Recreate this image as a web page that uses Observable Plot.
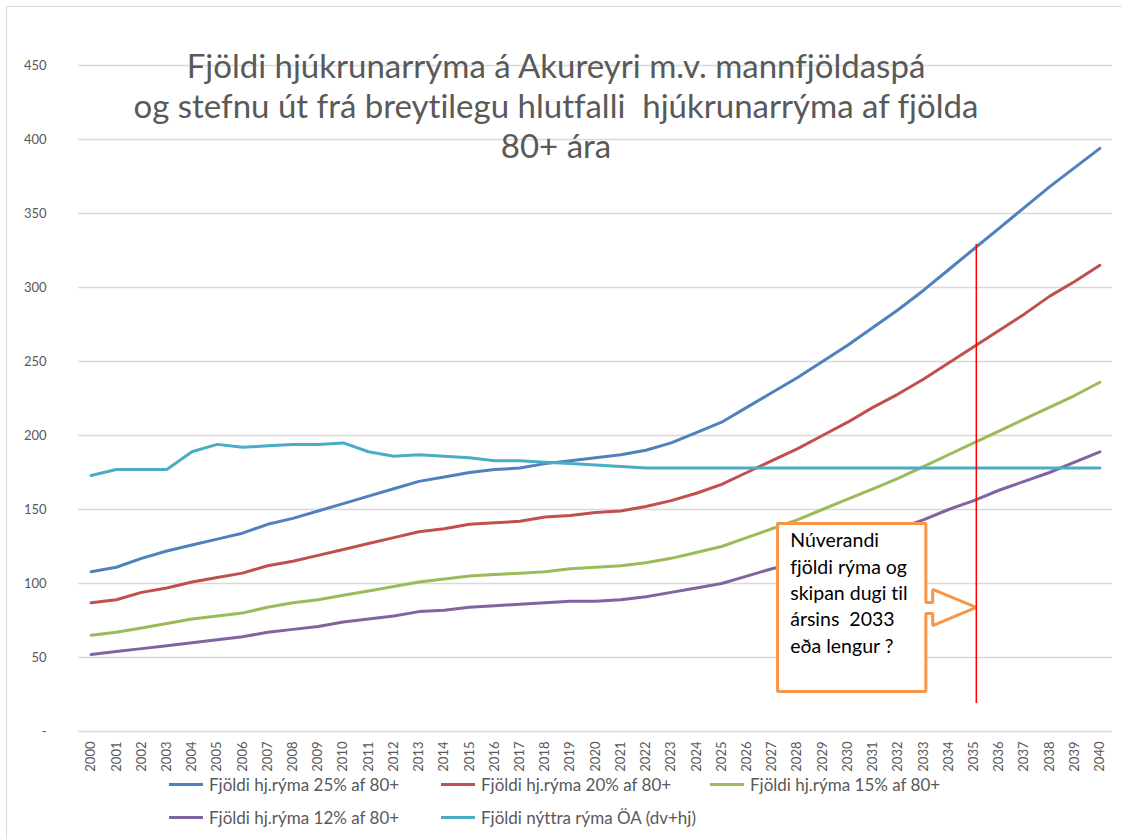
<!DOCTYPE html>
<html>
<head>
<meta charset="utf-8">
<script src="https://cdn.jsdelivr.net/npm/d3@7"></script>
<script src="https://cdn.jsdelivr.net/npm/@observablehq/plot@0.6"></script>
<style>
  html, body { margin: 0; padding: 0; background: #fff; }
  #wrap { position: relative; width: 1122px; height: 839px; overflow: hidden; font-family: Lato, sans-serif; font-variant-ligatures: none; }
  #wrap svg text { font-variant-ligatures: none; }
  #frame { position: absolute; left: 6px; top: 6px; right: -10px; bottom: -10px; border-left: 1.5px solid #d9d9d9; border-top: 1.5px solid #d9d9d9; pointer-events: none; }
  #chart { position: absolute; left: 0; top: 0; }
  #title { position: absolute; left: 0; top: 45px; width: 1112px; text-align: center; color: #595959; font-size: 33px; line-height: 40px; pointer-events: none; white-space: pre; }
  #legend { position: absolute; left: 169px; top: 768px; display: grid; grid-template-columns: 272px 269px 260px; grid-auto-rows: 33px; color: #595959; font-size: 17px; }
  .item { display: flex; align-items: center; white-space: nowrap; }
  .sw { width: 34px; height: 3px; margin-right: 6px; }
</style>
</head>
<body>
<div id="wrap">
  <div id="chart"></div>
  <div id="frame"></div>
  <div id="title"></div>
  <div id="legend"></div>
</div>
<script>
// ---- data ----
const titleLines = [
  "Fjöldi hjúkrunarrýma á Akureyri m.v. mannfjöldaspá",
  "og stefnu út frá breytilegu hlutfalli  hjúkrunarrýma af fjölda",
  "80+ ára"
];
const years = [2000,2001,2002,2003,2004,2005,2006,2007,2008,2009,2010,2011,2012,2013,2014,2015,2016,2017,2018,2019,2020,
               2021,2022,2023,2024,2025,2026,2027,2028,2029,2030,2031,2032,2033,2034,2035,2036,2037,2038,2039,2040];
const yTicks = [0,50,100,150,200,250,300,350,400,450];

const seriesNames = [
  "Fjöldi hj.rýma 25% af 80+",
  "Fjöldi hj.rýma 20% af 80+",
  "Fjöldi hj.rýma 15% af 80+",
  "Fjöldi hj.rýma 12% af 80+",
  "Fjöldi nýttra rýma ÖA (dv+hj)"
];
const rooms25 = [108,111,117,122,126,130,134,140,144,149,154,159,164,169,172,175,177,178,181,183,185,
                 187,190,195,202,209,219,229,239,250,261,273,285,298,312,326,340,354,368,381,394];
const rooms20 = [87,89,94,97,101,104,107,112,115,119,123,127,131,135,137,140,141,142,145,146,148,
                 149,152,156,161,167,175,183,191,200,209,219,228,238,249,260,271,282,294,304,315];
const rooms15 = [65,67,70,73,76,78,80,84,87,89,92,95,98,101,103,105,106,107,108,110,111,
                 112,114,117,121,125,131,137,143,150,157,164,171,179,187,195,203,211,219,227,236];
const rooms12 = [52,54,56,58,60,62,64,67,69,71,74,76,78,81,82,84,85,86,87,88,88,
                 89,91,94,97,100,105,110,114,120,126,132,137,143,150,156,163,169,175,182,189];
const roomsUsed = [173,177,177,177,189,194,192,193,194,194,195,189,186,187,186,185,183,183,182,181,180,
                   179,178,178,178,178,178,178,178,178,178,178,178,178,178,178,178,178,178,178,178];
const seriesValues = [rooms25, rooms20, rooms15, rooms12, roomsUsed];
const seriesColors = ["#4f81bd", "#c0504d", "#9bbb59", "#8064a2", "#4bacc6"];

// annotation (in data units: year, rooms)
const markerYear = 2035.1;
const markerRange = [19, 329];
const calloutX = [2027.22, 2033.1, 2033.1, 2033.37, 2033.37, 2035.1, 2033.37, 2033.37, 2033.1, 2033.1, 2027.22, 2027.22];
const calloutY = [140.5, 140.5, 87.2, 87.2, 96, 83.8, 71.6, 79.7, 79.7, 27, 27, 140.5];
const noteLines = ["Núverandi", "fjöldi rýma og", "skipan dugi til", "ársins\u00a0 2033", "eða lengur ?"];
const notePos = {x: 2027.72, y: 137};

// ---- build ----
const table = seriesNames.flatMap((name, i) => years.map((yr, j) => ({series: name, year: yr, value: seriesValues[i][j]})));
const callout = calloutX.map((x, i) => ({x, y: calloutY[i]}));

const chart = Plot.plot({
  width: 1122,
  height: 775,
  marginLeft: 78,
  marginRight: 10,
  marginTop: 65,
  marginBottom: 44,
  style: {fontFamily: "Lato, sans-serif", fontSize: "13px", background: "transparent", color: "#595959"},
  x: {type: "linear", domain: [1999.5, 2040.5]},
  y: {domain: [0, 450]},
  color: {domain: seriesNames, range: seriesColors},
  marks: [
    Plot.gridY(yTicks, {stroke: "#d9d9d9", strokeOpacity: 1, strokeWidth: 1.3}),
    Plot.axisY(yTicks, {tickSize: 0, tickPadding: 32, fill: "#595959", fontSize: 13,
      tickFormat: d => d === 0 ? "-" : String(d), label: null}),
    Plot.axisX(years, {tickSize: 0, tickPadding: 10, tickRotate: -90, fill: "#595959", fontSize: 13,
      tickFormat: d => String(d), label: null}),
    Plot.line(table, {x: "year", y: "value", z: "series", stroke: "series", strokeWidth: 3, strokeLinejoin: "round"}),
    Plot.line(callout, {x: "x", y: "y", fill: "white", stroke: "#f79646", strokeWidth: 3, strokeLinejoin: "miter"}),
    Plot.text([noteLines.join("\n")], {x: () => notePos.x, y: () => notePos.y, text: d => d, textAnchor: "start",
      lineAnchor: "top", lineHeight: 1.35, fontSize: 19.5, fill: "#000"}),
    Plot.ruleX([markerYear], {y1: markerRange[0], y2: markerRange[1], stroke: "#ff0000", strokeWidth: 1.5})
  ]
});
document.getElementById("chart").appendChild(chart);

document.getElementById("title").textContent = titleLines.join("\n");

const legend = document.getElementById("legend");
seriesNames.forEach((name, i) => {
  const item = document.createElement("div");
  item.className = "item";
  const sw = document.createElement("span");
  sw.className = "sw";
  sw.style.background = seriesColors[i];
  const tx = document.createElement("span");
  tx.textContent = name;
  item.append(sw, tx);
  legend.appendChild(item);
});
</script>
</body>
</html>
